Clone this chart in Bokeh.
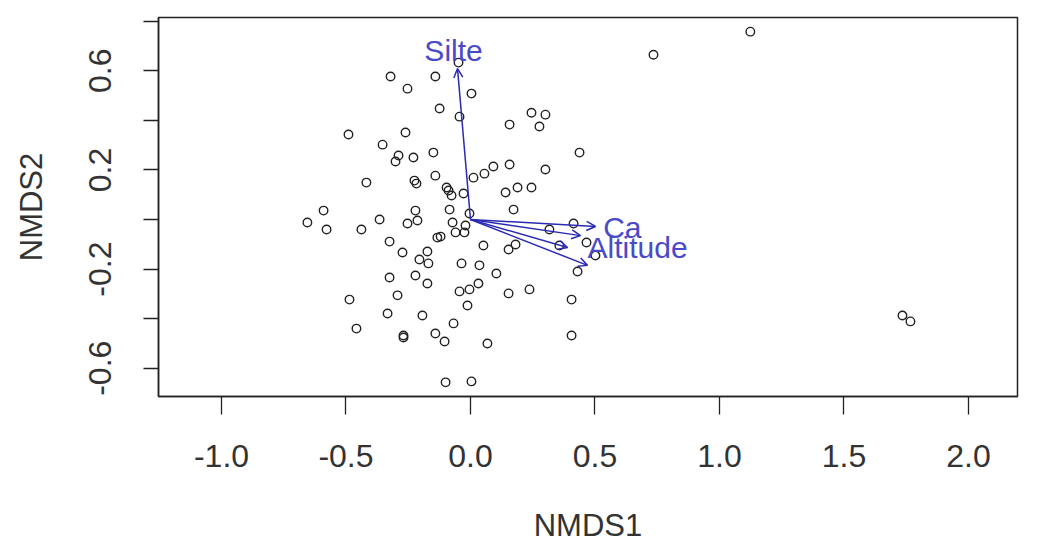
from bokeh.plotting import figure
from bokeh.models import (ColumnDataSource, Arrow, OpenHead, FixedTicker,
                          NumeralTickFormatter, Range1d)
from bokeh.core.properties import value
from bokeh.embed import file_html
from bokeh.resources import INLINE

# Site scores (NMDS1, NMDS2)
nmds1 = [-0.321, -0.141, -0.253, 0.004, -0.124, -0.044, -0.048, -0.490, -0.261, -0.353,
         -0.289, -0.301, -0.229, -0.149, -0.418, -0.225, -0.217, -0.141, -0.096, -0.088,
         -0.076, -0.028, 0.012, 0.056, 0.092, -0.590, -0.221, -0.084, 0.735, 1.124,
         0.245, 0.301, 0.157, 0.277, 0.438, 0.157, 0.301, 0.141, 0.189, 0.245,
         0.173, 1.735, 1.767, -0.655, -0.578, -0.438, -0.365, -0.253, -0.213, -0.004,
         -0.072, -0.060, -0.024, -0.120, -0.133, -0.325, -0.273, -0.173, -0.205, -0.169,
         0.052, -0.036, 0.036, 0.104, -0.325, -0.221, -0.173, -0.486, -0.293, -0.044,
         -0.004, 0.032, -0.012, -0.333, -0.193, -0.068, -0.458, -0.269, -0.269, -0.141,
         -0.104, 0.068, -0.100, 0.004, 0.153, 0.181, 0.414, 0.317, 0.357, 0.466,
         0.502, 0.430, 0.153, 0.237, 0.406, 0.406, -0.020]
nmds2 = [0.577, 0.577, 0.528, 0.508, 0.448, 0.415, 0.633, 0.343, 0.351, 0.302,
         0.258, 0.234, 0.250, 0.270, 0.149, 0.157, 0.145, 0.177, 0.129, 0.117,
         0.097, 0.105, 0.169, 0.185, 0.214, 0.036, 0.036, 0.040, 0.665, 0.758,
         0.431, 0.423, 0.383, 0.375, 0.270, 0.222, 0.202, 0.109, 0.129, 0.129,
         0.040, -0.387, -0.411, -0.012, -0.040, -0.040, 0.000, -0.016, -0.004, 0.024,
         -0.012, -0.052, -0.052, -0.069, -0.073, -0.089, -0.133, -0.129, -0.161, -0.177,
         -0.105, -0.177, -0.185, -0.218, -0.234, -0.226, -0.258, -0.323, -0.306, -0.290,
         -0.282, -0.258, -0.347, -0.379, -0.387, -0.419, -0.440, -0.468, -0.476, -0.460,
         -0.492, -0.500, -0.657, -0.653, -0.121, -0.101, -0.016, -0.040, -0.105, -0.093,
         -0.145, -0.210, -0.298, -0.282, -0.323, -0.468, -0.024]

# Environmental fitted vectors
vec_x = [-0.052, 0.502, 0.442, 0.390, 0.470]
vec_y = [0.609, -0.028, -0.065, -0.113, -0.185]

# Vector labels
lab_text = ["Silte", "Ca", "Altitude"]
lab_x = [-0.068, 0.610, 0.671]
lab_y = [0.681, -0.032, -0.113]

x_ticks = [-1.0, -0.5, 0.0, 0.5, 1.0, 1.5, 2.0]
y_ticks = [-0.6, -0.2, 0.2, 0.6]
y_minor = [-0.4, 0.0, 0.4, 0.8]

FONT = "Liberation Sans"

p = figure(width=1045, height=547, output_backend="svg", toolbar_location=None,
           x_range=Range1d(-1.253, 2.197), y_range=Range1d(-0.714, 0.815),
           min_border_left=158, min_border_right=28, min_border_top=17,
           min_border_bottom=151)
p.grid.visible = False
p.outline_line_color = "#222222"
p.outline_line_width = 1.5
p.background_fill_color = "white"
p.border_fill_color = "white"

# x axis
xa = p.xaxis[0]
xa.ticker = FixedTicker(ticks=x_ticks)
xa.formatter = NumeralTickFormatter(format="0.0")
xa.axis_label = "NMDS1"
xa.major_tick_out = 18
xa.major_tick_in = 0
xa.major_label_standoff = 30
xa.axis_label_standoff = 38

# y axis
ya = p.yaxis[0]
ya.ticker = FixedTicker(ticks=y_ticks, minor_ticks=y_minor)
ya.formatter = NumeralTickFormatter(format="0.0")
ya.axis_label = "NMDS2"
ya.major_tick_out = 15
ya.major_tick_in = 0
ya.minor_tick_out = 15
ya.minor_tick_in = 0
ya.major_label_orientation = "vertical"
ya.major_label_standoff = 32
ya.axis_label_standoff = 38

for ax in (xa, ya):
    ax.axis_line_color = "#222222"
    ax.axis_line_width = 1.5
    ax.major_tick_line_color = "#222222"
    ax.major_tick_line_width = 1.3
    ax.minor_tick_line_color = "#222222" if ax is ya else None
    ax.minor_tick_line_width = 1.3
    ax.major_label_text_font = FONT
    ax.major_label_text_font_size = "32px"
    ax.major_label_text_color = "#333333"
    ax.axis_label_text_font = FONT
    ax.axis_label_text_font_size = "31px"
    ax.axis_label_text_font_style = "normal"
    ax.axis_label_text_color = "#333333"

pts = ColumnDataSource(dict(x=nmds1, y=nmds2))
p.scatter("x", "y", source=pts, size=8.5, fill_color=None, line_color="#222222",
          line_width=1.4)

vsrc = ColumnDataSource(dict(x0=[0.0] * len(vec_x), y0=[0.0] * len(vec_y),
                             x1=vec_x, y1=vec_y))
p.add_layout(Arrow(end=OpenHead(size=9, line_color="#2a2ab4", line_width=1.5),
                   x_start="x0", y_start="y0", x_end="x1", y_end="y1",
                   source=vsrc, line_color="#2a2ab4", line_width=1.5))

lsrc = ColumnDataSource(dict(x=lab_x, y=lab_y, t=lab_text))
p.text("x", "y", text="t", source=lsrc, text_align="center",
       text_baseline="middle", text_color="#4a4ac8",
       text_font=value(FONT), text_font_size="30px")

open("out.html", "w").write(file_html(p, INLINE))
